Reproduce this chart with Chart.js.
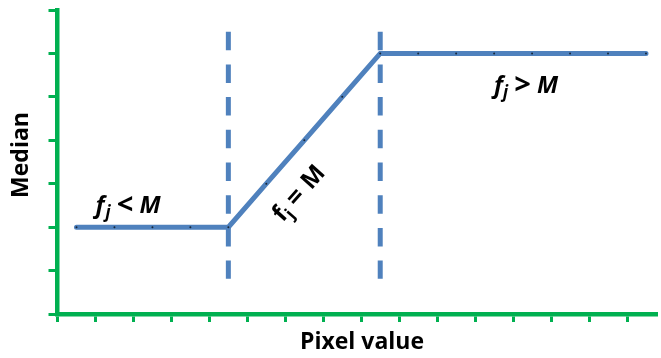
<!DOCTYPE html>
<html>
<head>
<meta charset="utf-8">
<script src="https://cdn.jsdelivr.net/npm/chart.js@4.4.1/dist/chart.umd.min.js"></script>
<style>
  html, body { margin: 0; padding: 0; background: #fff; }
</style>
</head>
<body>
<canvas id="chart" width="661" height="358"></canvas>
<script>
// data, in tick units of the two axes
const pixelValues = [0.5, 1.5, 2.5, 3.5, 4.5, 5.5, 6.5, 7.5, 8.5, 9.5, 10.5, 11.5, 12.5, 13.5, 14.5, 15.5];
const medianValues = [2, 2, 2, 2, 2, 3, 4, 5, 6, 6, 6, 6, 6, 6, 6, 6];
const xTicks = [0, 1, 2, 3, 4, 5, 6, 7, 8, 9, 10, 11, 12, 13, 14, 15];
const yTicks = [0, 1, 2, 3, 4, 5, 6, 7];
const breakPoints = [4.5, 8.5];
const dashRange = [6.5, 0.81];

const GREEN = "#00b050";
const BLUE = "#4f81bd";

const medianLine = pixelValues.map((x, i) => ({ x: x, y: medianValues[i] }));

const dashSets = breakPoints.map(b => ({
  data: [{ x: b, y: dashRange[0] }, { x: b, y: dashRange[1] }],
  borderColor: BLUE,
  borderWidth: 5,
  borderDash: [18.5, 14.2],
  borderCapStyle: "butt",
  pointRadius: 0,
  fill: false
}));

// text drawn on top: axis titles and the three region labels
function drawParts(ctx, parts, italic) {
  parts.forEach(p => {
    ctx.font = (italic ? "italic " : "") + "bold " + p.size + "px 'Open Sans'";
    ctx.fillText(p.t, p.dx, p.dy);
  });
}

const labelPlugin = {
  id: "labels",
  afterDraw(chart) {
    const ctx = chart.ctx;
    const xs = chart.scales.x;
    const ys = chart.scales.y;
    ctx.save();
    ctx.fillStyle = "#000";
    ctx.textBaseline = "alphabetic";
    ctx.textAlign = "left";

    // f_j < M
    ctx.save();
    ctx.translate(xs.getPixelForValue(1.0), ys.getPixelForValue(2.33));
    drawParts(ctx, [
      { t: "f", dx: 0, dy: 0, size: 24 },
      { t: "j", dx: 10, dy: 5, size: 17 },
      { t: "<", dx: 21, dy: 1, size: 29 },
      { t: "M", dx: 44, dy: 0, size: 24 }
    ], true);
    ctx.restore();

    // f_j > M
    ctx.save();
    ctx.translate(xs.getPixelForValue(11.5), ys.getPixelForValue(5.08));
    drawParts(ctx, [
      { t: "f", dx: 0, dy: 0, size: 24 },
      { t: "j", dx: 9, dy: 5, size: 17 },
      { t: ">", dx: 20, dy: 1, size: 29 },
      { t: "M", dx: 43, dy: 0, size: 24 }
    ], true);
    ctx.restore();

    // f_j = M, along the ramp
    ctx.save();
    ctx.translate(xs.getPixelForValue(6.42), ys.getPixelForValue(2.86));
    ctx.rotate(-48.6 * Math.PI / 180);
    drawParts(ctx, [
      { t: "f", dx: -37, dy: 8, size: 24 },
      { t: "j", dx: -28, dy: 13, size: 17 },
      { t: "=", dx: -17, dy: 9, size: 27 },
      { t: "M", dx: 6, dy: 8, size: 24 }
    ], false);
    ctx.restore();

    // axis titles
    ctx.font = "bold 23px 'Open Sans'";
    ctx.textAlign = "center";
    ctx.textBaseline = "middle";
    ctx.fillText("Pixel value", 362, 342);
    ctx.save();
    ctx.translate(21, 155);
    ctx.rotate(-Math.PI / 2);
    ctx.fillText("Median", 0, 0);
    ctx.restore();

    ctx.restore();
  }
};

const ctx = document.getElementById("chart").getContext("2d");

new Chart(ctx, {
  type: "line",
  data: {
    datasets: [
      {
        data: medianLine,
        borderColor: BLUE,
        borderWidth: 5,
        borderCapStyle: "round",
        pointRadius: 1,
        pointBorderWidth: 0,
        pointBackgroundColor: "#16263a",
        tension: 0,
        fill: false
      },
      ...dashSets
    ]
  },
  options: {
    responsive: false,
    devicePixelRatio: 1,
    animation: false,
    layout: { padding: { top: 10, right: 0, left: 0, bottom: 0 } },
    plugins: {
      legend: { display: false },
      tooltip: { enabled: false }
    },
    scales: {
      x: {
        type: "linear",
        min: 0,
        max: 15.79,
        afterBuildTicks: s => { s.ticks = xTicks.map(v => ({ value: v })); },
        afterFit: s => { s.height = 44; },
        ticks: { display: false },
        grid: {
          drawOnChartArea: false,
          drawTicks: true,
          tickLength: 8,
          tickWidth: 3,
          tickColor: GREEN
        },
        border: { color: GREEN, width: 4.5 }
      },
      y: {
        type: "linear",
        min: 0,
        max: 7,
        afterBuildTicks: s => { s.ticks = yTicks.map(v => ({ value: v })); },
        afterFit: s => { s.width = 57.5; },
        ticks: { display: false },
        grid: {
          drawOnChartArea: false,
          drawTicks: true,
          tickLength: 9,
          tickWidth: 3,
          tickColor: GREEN
        },
        border: { color: GREEN, width: 4.5 }
      }
    }
  },
  plugins: [labelPlugin]
});
</script>
</body>
</html>
